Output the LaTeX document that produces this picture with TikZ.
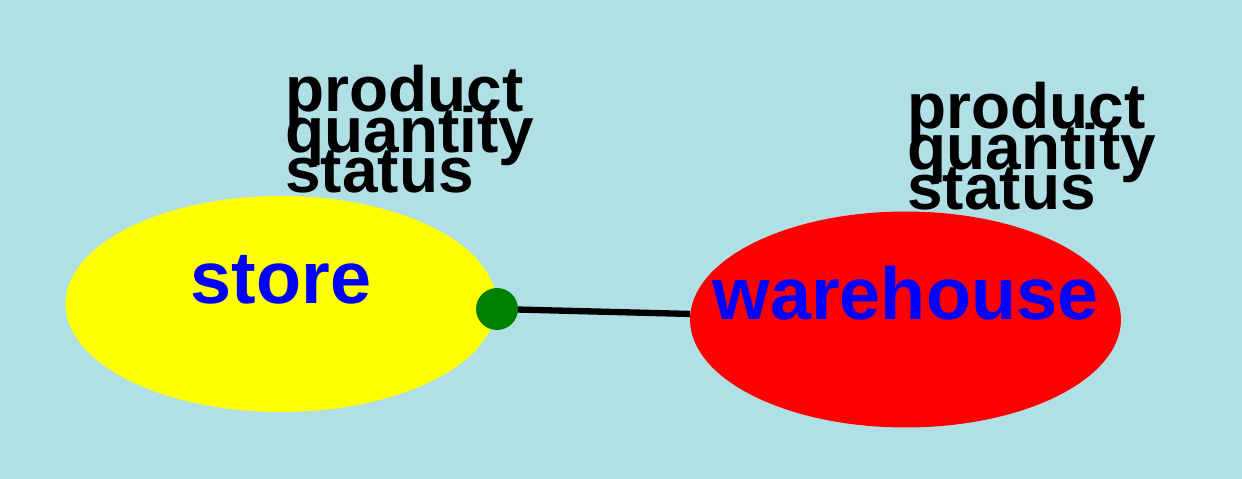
\documentclass[tikz,border=0pt]{standalone}
\usepackage{fontspec}
\setmainfont{Liberation Sans}
\usetikzlibrary{shapes.geometric}
\definecolor{bgblue}{HTML}{B0E0E6}
\definecolor{dotgreen}{HTML}{008000}
\definecolor{storeyellow}{HTML}{FFFF00}
\definecolor{housered}{HTML}{FF0000}
\definecolor{namblue}{HTML}{0000FF}
% dicht gesetzte Zeilen (Zeilen dürfen sich berühren)
\newcommand{\attrfont}{\fontsize{36.4}{23.3}\selectfont\bfseries\lineskiplimit-100pt\relax}

\begin{document}
\begin{tikzpicture}[
        x=0.02cm, y=-0.02cm,
        ent/.style={ellipse, inner sep=0pt, minimum width=8.62cm, minimum height=4.32cm},
        entname/.style={anchor=base, inner sep=0pt, text=namblue, font=\fontsize{42}{42}\selectfont\bfseries},
        attrs/.style={anchor=base west, inner sep=0pt, align=left, font=\attrfont},
        link/.style={line width=3.6pt}
    ]
        % --- Hintergrund ---
        \fill[bgblue] (0,0) rectangle (1242,479);
        \useasboundingbox (0,0) rectangle (1242,479);

        % --- Entitäten ---
        \node[ent, fill=storeyellow] (store) at (281,304) {};
        \node[ent, fill=housered] (warehouse) at (905.5,319.5) {};
        \node[entname] (storename) at (store.center) {store};
        \node[entname] (warehousename) at (warehouse.center) {warehouse};

        % --- Attribute (Anker = Grundlinie der letzten Zeile) ---
        \node[attrs] (storeattrs) at (285,193) {product\\quantity\\status};
        \node[attrs] (warehouseattrs) at (907,210) {product\\quantity\\status};

        % --- Beziehung ---
        \coordinate (dotpos) at (497,309);
        \draw[link] (dotpos) -- (warehouse);
        \node[circle, fill=dotgreen, inner sep=0pt, minimum size=0.84cm] (dot) at (dotpos) {};
    \end{tikzpicture}
\end{document}
